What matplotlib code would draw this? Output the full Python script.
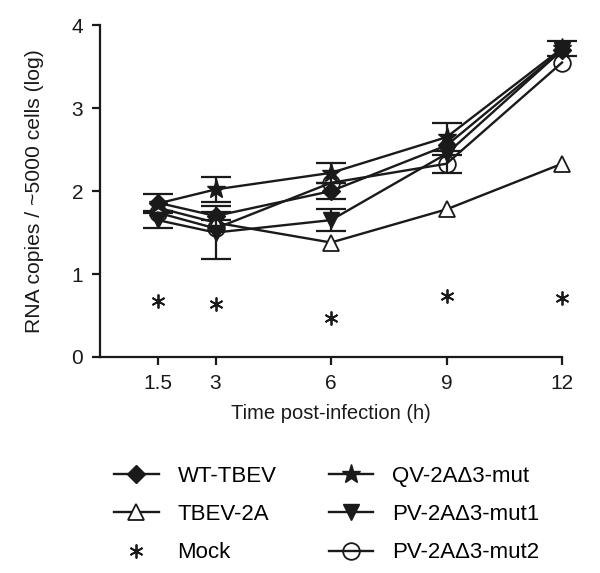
import matplotlib
matplotlib.use("Agg")
import matplotlib.pyplot as plt
from matplotlib.lines import Line2D

plt.rcParams['font.family'] = ['Liberation Sans', 'DejaVu Sans']

time = [1.5, 3, 6, 9, 12]
wt = [1.86, 1.70, 2.00, 2.55, 3.70]
wt_err = [0.10, 0.05, 0.10, 0.0, 0.0]
tbev2a = [1.80, 1.62, 1.38, 1.78, 2.33]
mock = [0.68, 0.64, 0.47, 0.74, 0.71]
qv = [1.85, 2.02, 2.22, 2.65, 3.72]
qv_err = [0.0, 0.15, 0.12, 0.17, 0.09]
mut1 = [1.65, 1.50, 1.65, 2.45, 3.70]
mut1_err = [0.09, 0.32, 0.13, 0.0, 0.0]
mut2 = [1.74, 1.55, 2.10, 2.33, 3.55]
mut2_err = [0.0, 0.0, 0.0, 0.11, 0.0]

xticks = [1.5, 3, 6, 9, 12]
yticks = [0, 1, 2, 3, 4]

fig = plt.figure(figsize=(6, 5.73), dpi=100)
ax = fig.add_axes([0.1667, 0.377, 0.77, 0.579])

c = '#1a1a1a'
lw = 1.7

styles = [
    dict(marker='D', ms=9, mfc=c, mec=c),
    dict(marker='^', ms=11, mfc='white', mec=c, mew=1.3),
    dict(marker=(6, 2, 0), ms=10, mec=c, mew=1.3),
    dict(marker='*', ms=14, mfc=c, mec=c),
    dict(marker='v', ms=11, mfc=c, mec=c),
    dict(marker='o', ms=12, mfc='none', mec=c, mew=1.3),
]

def draw(y, err, st):
    if err is not None:
        xs = [t for t, e in zip(time, err) if e > 0]
        ys = [v for v, e in zip(y, err) if e > 0]
        es = [e for e in err if e > 0]
        ax.errorbar(xs, ys, yerr=es, fmt='none', ecolor=c, elinewidth=1.6,
                    capsize=11, capthick=1.6, clip_on=False)
    ax.plot(time, y, color=c, lw=lw, clip_on=False, **st)

draw(wt, wt_err, styles[0])
draw(tbev2a, None, styles[1])
ax.plot(time, mock, ls='none', color=c, clip_on=False, **styles[2])
draw(qv, qv_err, styles[3])
draw(mut1, mut1_err, styles[4])
draw(mut2, mut2_err, styles[5])

ax.set_xlim(0, 12)
ax.set_ylim(0, 4)
ax.set_xticks(xticks)
ax.set_xticklabels(['1.5', '3', '6', '9', '12'])
ax.set_yticks(yticks)
for s in ['top', 'right']:
    ax.spines[s].set_visible(False)
for s in ['left', 'bottom']:
    ax.spines[s].set_linewidth(1.6)
    ax.spines[s].set_color(c)
ax.tick_params(axis='both', direction='out', length=6, width=1.6, labelsize=15, colors=c, pad=6)
ax.set_xlabel('Time post-infection (h)', fontsize=14.5, color=c, labelpad=8)
ax.set_ylabel('RNA copies / ~5000 cells (log)', fontsize=15.2, color=c, labelpad=20)

labels = ['WT-TBEV', 'TBEV-2A', 'Mock', 'QV-2AΔ3-mut', 'PV-2AΔ3-mut1', 'PV-2AΔ3-mut2']
handles = []
for i, st in enumerate(styles):
    ls = 'none' if i == 2 else '-'
    handles.append(Line2D([], [], color=c, lw=lw, ls=ls, **st))
fig.legend(handles, labels, ncol=2, loc='upper left', bbox_to_anchor=(0.157, 0.222),
           frameon=False, fontsize=16, handlelength=2.0, columnspacing=2.35,
           labelspacing=0.78, handletextpad=0.85)

fig.savefig('out.png', dpi=100)
